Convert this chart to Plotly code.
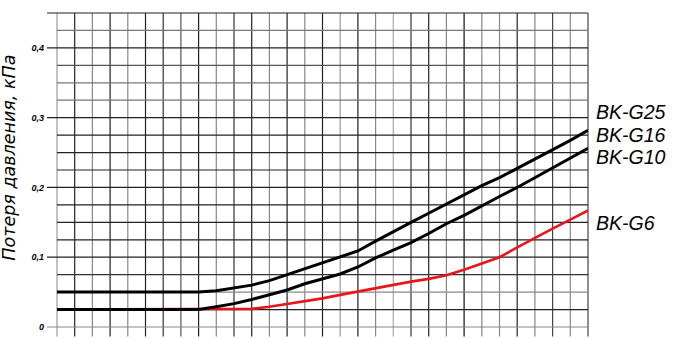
import plotly.graph_objects as go

# ---- data ----
flow_steps = list(range(31))  # grid divisions along x (no labels in original)
g25_g16 = [0.05, 0.05, 0.05, 0.05, 0.05, 0.05, 0.05, 0.05, 0.05, 0.052, 0.0556,
           0.060, 0.0665, 0.075, 0.083, 0.0915, 0.100, 0.109, 0.123, 0.137, 0.150,
           0.163, 0.176, 0.189, 0.2025, 0.214, 0.2275, 0.240, 0.254, 0.2675, 0.282]
g10 = [0.025, 0.025, 0.025, 0.025, 0.025, 0.025, 0.025, 0.025, 0.025, 0.029, 0.0335,
       0.0395, 0.046, 0.053, 0.062, 0.069, 0.076, 0.086, 0.099, 0.110, 0.121,
       0.134, 0.148, 0.160, 0.174, 0.187, 0.200, 0.214, 0.228, 0.242, 0.256]
g6 = [0.025, 0.025, 0.025, 0.025, 0.025, 0.025, 0.025, 0.025, 0.025, 0.025, 0.025,
      0.026, 0.029, 0.033, 0.0365, 0.041, 0.046, 0.051, 0.056, 0.061, 0.065,
      0.069, 0.074, 0.082, 0.091, 0.100, 0.114, 0.128, 0.141, 0.154, 0.167]
tick_vals = [0, 0.1, 0.2, 0.3, 0.4]
tick_text = ["0", "0,1", "0,2", "0,3", "0,4"]
labels = ["BK-G25", "BK-G16", "BK-G10", "BK-G6"]
y_title = "Потеря давления, кПа"

# ---- styles ----
label_y_paper = [0.686, 0.613, 0.540, 0.332]
v_shades = ["#999", "#222", "#888", "#222", "#888", "#222", "#333", "#555", "#222", "#888",
            "#333", "#222", "#888", "#222", "#888", "#222", "#999", "#222", "#888", "#aaa",
            "#333", "#222", "#888", "#111", "#888", "#888", "#222", "#888", "#444", "#888", "#444"]
h_shades = ["#888", "#222", "#888", "#333", "#222", "#222", "#222", "#222", "#222", "#222",
            "#222", "#222", "#222", "#777", "#777", "#555", "#222", "#777", "#222"]

fig = go.Figure()
fig.add_trace(go.Scatter(x=flow_steps, y=g6, mode="lines",
                         line=dict(color="#e8161b", width=2.6), hoverinfo="skip"))
fig.add_trace(go.Scatter(x=flow_steps, y=g10, mode="lines",
                         line=dict(color="#000", width=3), hoverinfo="skip"))
fig.add_trace(go.Scatter(x=flow_steps, y=g25_g16, mode="lines",
                         line=dict(color="#000", width=3), hoverinfo="skip"))

shapes = []
n_v = len(flow_steps)
for i in range(n_v):
    shapes.append(dict(type="line", xref="paper", yref="paper",
                       x0=i / (n_v - 1), x1=i / (n_v - 1), y0=-0.03, y1=1,
                       line=dict(color=v_shades[i], width=1.2), layer="below"))
n_h = 19
for j in range(n_h):
    yy = j / (n_h - 1)
    major = (j % 4 == 0) or j == n_h - 1
    shapes.append(dict(type="line", xref="paper", yref="paper",
                       x0=(-10 / 531) if major else 0, x1=1, y0=yy, y1=yy,
                       line=dict(color=h_shades[j], width=1.2), layer="below"))

annotations = []
for lab, yp in zip(labels, label_y_paper):
    annotations.append(dict(text=lab, xref="paper", yref="paper", x=1.012, y=yp,
                            xanchor="left", yanchor="middle", showarrow=False,
                            font=dict(family="Liberation Sans", size=19.5, color="#000",
                                      style="italic")))
annotations.append(dict(text=y_title, xref="paper", yref="paper", x=-0.09, y=0.54,
                        xanchor="center", yanchor="middle", textangle=-90, showarrow=False,
                        font=dict(family="DejaVu Sans", size=17.5, color="#000",
                                  style="italic")))

fig.update_layout(
    width=678, height=339,
    margin=dict(l=57, r=90, t=13, b=7),
    paper_bgcolor="white", plot_bgcolor="white",
    showlegend=False,
    shapes=shapes, annotations=annotations,
    xaxis=dict(range=[0, 30], showgrid=False, zeroline=False, showticklabels=False,
               ticks="", showline=False, fixedrange=True),
    yaxis=dict(range=[0, 0.45], showgrid=False, zeroline=False, showline=False,
               tickvals=tick_vals, ticktext=tick_text, ticks="", ticklabelstandoff=12,
               tickfont=dict(family="Liberation Sans", size=9, color="#000",
                             weight="bold", style="italic"), fixedrange=True),
)

fig.write_html("out.html", config={"displayModeBar": False})
